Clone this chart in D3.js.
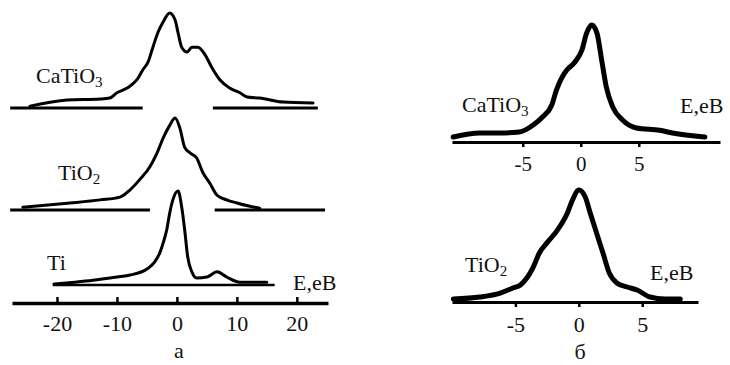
<!DOCTYPE html>
<html><head><meta charset="utf-8">
<script src="https://cdn.jsdelivr.net/npm/d3@7/dist/d3.min.js"></script>
<style>
html,body{margin:0;padding:0;background:#fff;}
svg{display:block;}
</style></head>
<body>
<svg id="c" width="730" height="365"></svg>
<script>
// ---- Panel а : energy (eV) and relative intensity (peak = 1) ----
const aCaTiO3E = [-24.5,-18.3,-12.8,-11.2,-10,-8.3,-6.7,-5.7,-4.8,-4,-3.2,-2.3,-1.2,-0.3,0.2,0.8,1.7,2.5,3.5,4.7,5.8,7.2,8.8,10.5,11.7,13.8,17.7,22.7];
const aCaTiO3I = [0.02,0.084,0.095,0.105,0.16,0.21,0.295,0.4,0.485,0.64,0.79,0.905,1.0,0.926,0.79,0.64,0.59,0.64,0.64,0.56,0.43,0.295,0.21,0.16,0.116,0.105,0.063,0.053];
const aTiO2E = [-25.7,-17.8,-12.8,-9.5,-7.8,-6.2,-4.5,-3.3,-2.3,-1.2,-0.3,0.5,1.3,2.2,3.3,4.3,5.5,6.7,8.3,10,12,13.8];
const aTiO2I = [0.03,0.076,0.11,0.14,0.22,0.33,0.47,0.62,0.78,0.92,1.0,0.89,0.68,0.62,0.565,0.41,0.29,0.16,0.11,0.076,0.043,0.02];
const aTiE = [-20.5,-17,-14,-10,-7.8,-5,-3.7,-2.8,-2.3,-1.7,-1.2,-0.7,0.2,0.8,1.3,1.8,2.5,3.3,5,6.7,8.3,10.5,13,15];
const aTiI = [0.01,0.03,0.05,0.085,0.106,0.17,0.245,0.35,0.445,0.585,0.765,0.9,1.0,0.83,0.585,0.3,0.14,0.075,0.085,0.14,0.085,0.03,0.03,0.03];
// baseline segments (energy ranges)
const aCaTiO3Base = [[-27.8,-5.7],[6.0,23.5]];
const aTiO2Base = [[-27.8,-4.5],[6.3,24.7]];
const aTiBase = [[-20.7,16.3]];
const aTicks = [-20,-10,0,10,20];

// ---- Panel б ----
const bCaTiO3E = [-11,-8.7,-7,-5.3,-4.1,-3.3,-2.5,-2.1,-1.6,-1.2,-0.5,0.1,0.5,0.95,1.4,1.8,2.2,2.75,3.6,4.8,6.8,7.9,10.7];
const bCaTiO3I = [0.043,0.077,0.077,0.085,0.145,0.214,0.316,0.444,0.556,0.615,0.684,0.786,0.93,1.0,0.93,0.70,0.47,0.30,0.188,0.12,0.10,0.077,0.043];
const bTiO2E = [-9.9,-7.8,-6.2,-5.2,-4.6,-4.1,-3.6,-3.1,-2.5,-1.7,-0.9,-0.5,0,0.5,0.9,1.4,1.9,2.4,3.0,3.8,4.6,5.6,6.8,8.0];
const bTiO2I = [0.027,0.045,0.08,0.125,0.152,0.214,0.31,0.44,0.53,0.64,0.795,0.91,1.0,0.94,0.795,0.616,0.44,0.26,0.17,0.134,0.107,0.045,0.027,0.027];
const bTicks = [-5,0,5];

const FONT = '"Liberation Serif", Tinos, "Times New Roman", Times, "DejaVu Serif", serif';
const svg = d3.select("#c");
const fmt = d => String(d); // hyphen minus as in the original

// scales
const xA = d3.scaleLinear().domain([-27.5,25.2]).range([12,328]);
const xB1 = d3.scaleLinear().domain([-11.1,12.0]).range([452,720]);
const xB2 = d3.scaleLinear().domain([-10.0,9.4]).range([452,698]);

function drawCurve(E, I, x, y0, y1, w){
  const y = d3.scaleLinear().domain([0,1]).range([y0,y1]);
  const pts = E.map((e,i)=>[e,I[i]]);
  svg.append("path").datum(pts)
    .attr("fill","none").attr("stroke","#000").attr("stroke-width",w)
    .attr("stroke-linejoin","round").attr("stroke-linecap","round")
    .attr("d", d3.line().x(d=>x(d[0])).y(d=>y(d[1])).curve(d3.curveMonotoneX));
  return y;
}
function drawBase(segs, x, y, w){
  segs.forEach(s=>{
    svg.append("line").attr("x1",x(s[0])).attr("x2",x(s[1]))
      .attr("y1",y(0)).attr("y2",y(0)).attr("stroke","#000").attr("stroke-width",w);
  });
}
function label(txt, sub, x, y, size){
  const t = svg.append("text").attr("x",x).attr("y",y).style("font-family",FONT)
    .style("font-size",size+"px").attr("fill","#111");
  t.append("tspan").text(txt);
  if(sub){ t.append("tspan").attr("dy",4).style("font-size",Math.round(size*0.68)+"px").text(sub); }
}
function styleAxis(g, lw, fs){
  g.select(".domain").attr("stroke","#000").attr("stroke-width",lw);
  g.selectAll(".tick line").attr("stroke","#000").attr("stroke-width",2.5);
  g.selectAll(".tick text").style("font-size",fs+"px").style("font-family",FONT).attr("fill","#111");
}

// Panel а curves
const yCa = drawCurve(aCaTiO3E, aCaTiO3I, xA, 108, 13, 3);
drawBase(aCaTiO3Base, xA, yCa, 3);
const yTo = drawCurve(aTiO2E, aTiO2I, xA, 210, 118, 3);
drawBase(aTiO2Base, xA, yTo, 3);
const yTi = drawCurve(aTiE, aTiI, xA, 285, 191, 3);
drawBase(aTiBase, xA, yTi, 2.5);

// Panel а axis
const gA = svg.append("g").attr("transform","translate(0,303)")
  .call(d3.axisBottom(xA).tickValues(aTicks).tickFormat(fmt).tickSizeInner(-6).tickSizeOuter(0).tickPadding(12));
styleAxis(gA, 3.5, 22);

label("CaTiO","3",36,83,22);
label("TiO","2",58,180,22);
label("Ti",null,47,270,22);
label("E,eB",null,293,290,22);
label("а",null,179,358,22);
svg.selectAll("text").filter(function(){return this.textContent==="а";}).attr("text-anchor","middle");

// Panel б top
drawCurve(bCaTiO3E, bCaTiO3I, xB1, 142, 25, 5);
const gB1 = svg.append("g").attr("transform","translate(0,142)")
  .call(d3.axisBottom(xB1).tickValues(bTicks).tickFormat(fmt).tickSizeInner(5).tickSizeOuter(0).tickPadding(9));
styleAxis(gB1, 3, 21);
label("CaTiO","3",462,112,22);
label("E,eB",null,680,113,22);

// Panel б bottom
drawCurve(bTiO2E, bTiO2I, xB2, 302, 190, 5);
const gB2 = svg.append("g").attr("transform","translate(0,302)")
  .call(d3.axisBottom(xB2).tickValues(bTicks).tickFormat(fmt).tickSizeInner(5).tickSizeOuter(0).tickPadding(9));
styleAxis(gB2, 3, 22);
label("TiO","2",465,272,22);
label("E,eB",null,650,280,22);
label("б",null,580,359,22);
svg.selectAll("text").filter(function(){return this.textContent==="б";}).attr("text-anchor","middle");
</script>
</body></html>
